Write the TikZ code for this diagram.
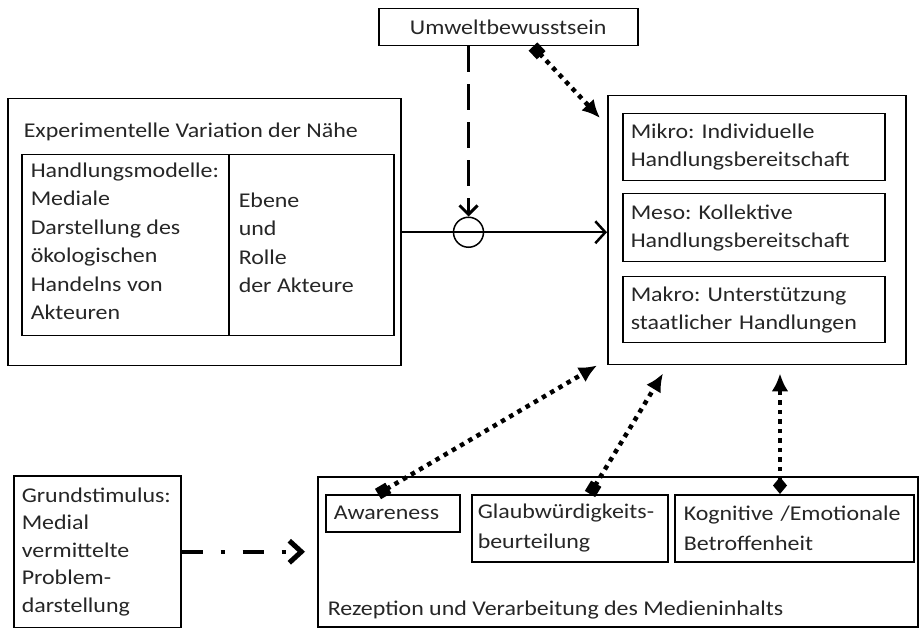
\documentclass[tikz,border=0pt]{standalone}
\usepackage{fontspec}
\setmainfont{Carlito}[FakeStretch=1.14]
\usetikzlibrary{arrows.meta}
\usetikzlibrary{calc}
\colorlet{schrift}{black!85}

\begin{document}
\frenchspacing
\begin{tikzpicture}[x=1pt, y=-1pt, line width=1.5pt,
        every node/.style={font=\fontsize{21}{28.5}\selectfont, text=schrift, inner sep=0pt},
        kasten/.style={draw, anchor=north west},
        punkt/.style={line width=4.5pt, dash pattern=on 4.5pt off 5pt},
        quad/.tip={Square[length=12pt, width=12pt]},
        raute/.tip={Diamond[length=17pt, width=14pt]},
        spitze/.tip={Latex[length=18pt, width=17pt]}]
        \useasboundingbox (0,0) rectangle (919,628);
        % oben
        \node [kasten, minimum width=259, minimum height=37] (umwelt) at (378,8) {Umweltbewusstsein};
        % links: Manipulation
        \node [kasten, minimum width=393, minimum height=267] (exper) at (7,98) {};
        \node [anchor=base west] (extitel) at (23,138) {Experimentelle Variation der Nähe};
        \node [kasten, minimum width=372, minimum height=181] (tab) at (21,154) {};
        \draw ($(tab.north west)+(208,0)$) -- ($(tab.south west)+(208,0)$);
        \node [anchor=base west, align=left] (modelle) at (30,320) {Handlungsmodelle:\\Mediale\\Darstellung des\\ökologischen\\Handelns von\\Akteuren};
        \node [anchor=base west, align=left] (ebene) at (238,293) {Ebene\\und\\Rolle\\der Akteure};
        % rechts: Wirkungen
        \node [kasten, minimum width=298, minimum height=269] (wirk) at (607,95) {};
        \node [kasten, minimum width=262, minimum height=67, text width=246, align=left, font=\fontsize{21}{28}\selectfont] (mikro) at (622,113) {Mikro: Individuelle\\Handlungsbereitschaft};
        \node [kasten, minimum width=262, minimum height=68, text width=246, align=left, font=\fontsize{21}{28}\selectfont] (meso) at (622,193) {Meso: Kollektive\\Handlungsbereitschaft};
        \node [kasten, minimum width=262, minimum height=66, text width=246, align=left, font=\fontsize{21}{28}\selectfont] (makro) at (622,276) {Makro: Unterstützung\\staatlicher Handlungen};
        % unten
        \node [kasten, minimum width=167, minimum height=152, text width=151, align=left, font=\fontsize{21}{27.5}\selectfont] (grund) at (13,475) {Grundstimulus:\\Medial\\vermittelte\\Problem-\\darstellung};
        \node [kasten, minimum width=600, minimum height=150] (rezep) at (317,476) {};
        \node [anchor=base west] (reztitel) at (327,615) {Rezeption und Verarbeitung des Medieninhalts};
        \node [kasten, minimum width=134, minimum height=37, text width=118, align=left] (aware) at (325,494) {Awareness};
        \node [kasten, minimum width=196, minimum height=67, text width=184, align=left, font=\fontsize{21}{30}\selectfont] (glaub) at (471,494) {Glaubwürdigkeits-\\beurteilung};
        \node [kasten, minimum width=239, minimum height=67, text width=221, align=left, font=\fontsize{21}{30}\selectfont] (kogn) at (674,494) {Kognitive /Emotionale\\Betroffenheit};
        % Verbindungen
        \node [draw, circle, minimum size=30] (kreis) at ($(exper.east)+(67,0)$) {};
        \draw [line width=2.5pt, -{Straight Barb[length=10pt, width=22pt]}] (exper.east) -- (wirk.west |- exper.east);
        \draw [line width=3pt, dash pattern=on 26pt off 12pt, -{Straight Barb[length=9pt, width=18pt]}] (umwelt.south -| kreis.north) -- (kreis.north);
        \coordinate (z0) at ($(wirk.north west)+(-7,23)$);
        \coordinate (z1) at ($(wirk.south west)+(-10,0)$);
        \coordinate (z2) at ($(wirk.south west)+(56,8)$);
        \coordinate (z3) at ($(wirk.south west)+(173,8)$);
        \draw [punkt, quad-spitze] ($(umwelt.south west)+(155,0)$) -- (z0);
        \draw [punkt, quad-spitze] ($(aware.north west)+(53,0)$) -- (z1);
        \draw [punkt, quad-spitze] ($(glaub.north west)+(119,0)$) -- (z2);
        \draw [punkt, raute-spitze] ($(kogn.north west)+(106,0)$) -- (z3);
        \draw [line width=4.5pt, dash pattern=on 21pt off 18pt on 4pt off 18pt, -{Straight Barb[length=12pt, width=22pt, line width=5pt]}] (grund.east) -- ($(rezep.west |- grund.east)+(-12,0)$);
    \end{tikzpicture}
\end{document}
